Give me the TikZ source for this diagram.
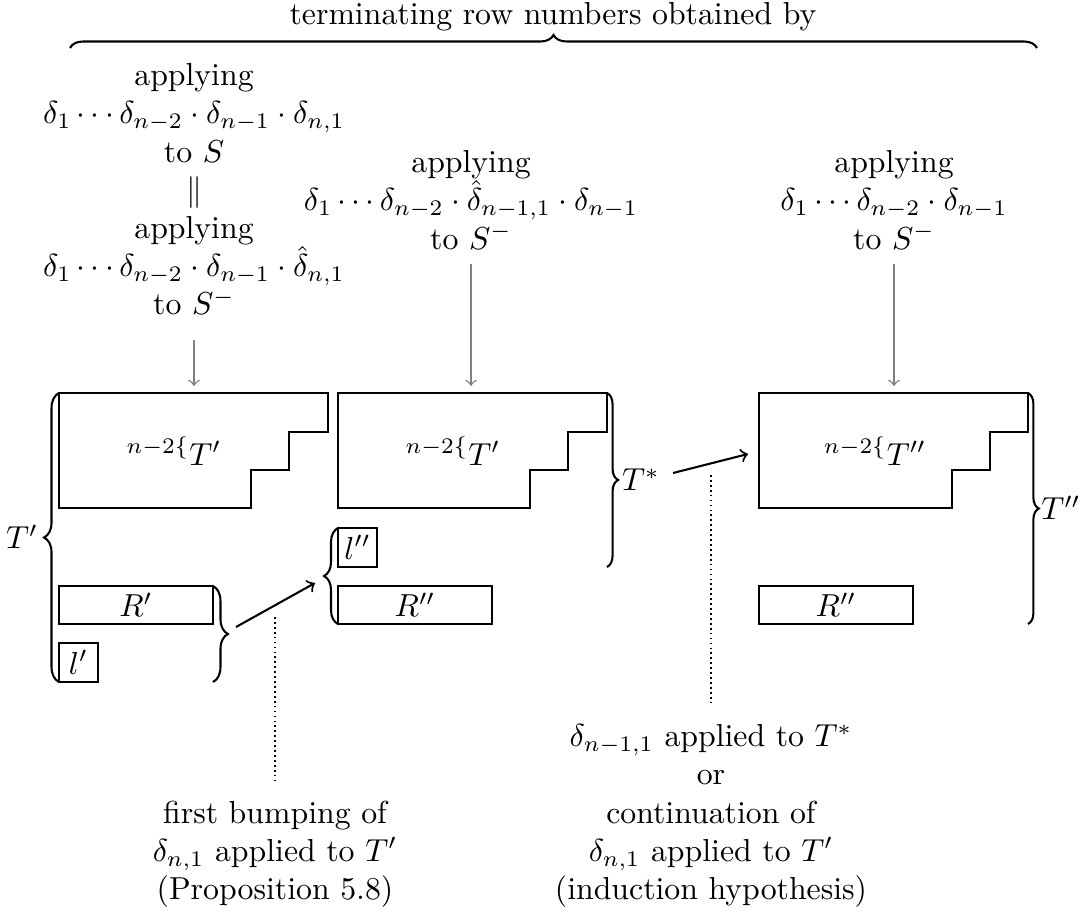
\documentclass[tikz,border=0pt]{standalone}
\usetikzlibrary{decorations.pathreplacing,calc}
\begin{document}
\begin{tikzpicture}[x=0.3145pt,y=-0.3145pt,
  box/.style={draw,line width=0.65pt},
  brc/.style={decorate,decoration={brace,amplitude=#1},line width=0.65pt},
  brc/.default=4.5pt,
  grayarrow/.style={->,gray,line width=0.45pt},
  blackarrow/.style={->,line width=0.65pt},
  dots/.style={densely dotted,line width=0.55pt},
  txt/.style={align=center,inner sep=0pt}]
\useasboundingbox (0,0) rectangle (1086,911);

% title and top brace
\node[txt] (title) at (553,17) {terminating row numbers obtained by};
\coordinate (tbL) at (70,48);
\coordinate (tbR) at (1037,48);
\draw[brc=4.1pt] (tbL) -- (tbR);

% column texts
\node[txt,anchor=north] (c1) at (194,63) {applying\\ $\delta_1\cdots\delta_{n-2}\cdot\delta_{n-1}\cdot\delta_{n,1}$\\ to $S$\\ $\|$\\ applying\\ $\delta_1\cdots\delta_{n-2}\cdot\delta_{n-1}\cdot\hat{\delta}_{n,1}$\\ to $S^-$};
\node[txt,anchor=north] (c2) at (471,150) {applying\\ $\delta_1\cdots\delta_{n-2}\cdot\hat{\delta}_{n-1,1}\cdot\delta_{n-1}$\\ to $S^-$};
\node[txt,anchor=north] (c3) at (894,150) {applying\\ $\delta_1\cdots\delta_{n-2}\cdot\delta_{n-1}$\\ to $S^-$};

\coordinate (g1s) at (194,340); \coordinate (g1e) at (194,386);
\coordinate (g2s) at (471,264); \coordinate (g2e) at (471,386);
\coordinate (g3s) at (894,264); \coordinate (g3e) at (894,386);
\draw[grayarrow] (g1s) -- (g1e);
\draw[grayarrow] (g2s) -- (g2e);
\draw[grayarrow] (g3s) -- (g3e);

% tableau 1
\draw[box] (59,393) -- (328,393) -- (328,432) -- (289,432) -- (289,470) -- (251,470) -- (251,508) -- (59,508) -- cycle;
\node (t1) at (174,451) {$^{n-2\{}T'$};
\draw[box] (59,586) rectangle (213,624);
\node (r1) at (136,605) {$R'$};
\draw[box] (59,643) rectangle (98,682);
\node (l1) at (78.5,662.5) {$l'$};
\draw[brc=4.7pt] (59,682) -- (59,393);
\node (Tp) at (22,537) {$T'$};
\draw[brc=4.7pt] (213,586) -- (213,682);

% tableau 2
\draw[box] (338,393) -- (607,393) -- (607,432) -- (568,432) -- (568,470) -- (530,470) -- (530,508) -- (338,508) -- cycle;
\node (t2) at (453,451) {$^{n-2\{}T'$};
\draw[box] (338,528) rectangle (377,567);
\node (l2) at (357.5,547.5) {$l''$};
\draw[box] (338,586) rectangle (492,624);
\node (r2) at (415,605) {$R''$};
\draw[brc=4.4pt] (338,624) -- (338,528);
\draw[brc=3.5pt] (607,393) -- (607,567);
\node (Ts) at (641,480) {$T^*$};

% tableau 3
\draw[box] (759,393) -- (1028,393) -- (1028,432) -- (990,432) -- (990,470) -- (952,470) -- (952,508) -- (759,508) -- cycle;
\node (t3) at (875,451) {$^{n-2\{}T''$};
\draw[box] (759,586) rectangle (913,624);
\node (r3) at (836,605) {$R''$};
\draw[brc=3.4pt] (1028,393) -- (1028,624);
\node (Tpp) at (1061,508) {$T''$};

% black arrows
\coordinate (a1s) at (236,627); \coordinate (a1e) at (315,583);
\coordinate (a2s) at (673,473); \coordinate (a2e) at (748,454);
\draw[blackarrow] (a1s) -- (a1e);
\draw[blackarrow] (a2s) -- (a2e);

% dotted lines
\coordinate (d1s) at (275,617); \coordinate (d1e) at (275,780);
\coordinate (d2s) at (711,475); \coordinate (d2e) at (711,705);
\draw[dots] (d1s) -- (d1e);
\draw[dots] (d2s) -- (d2e);

% bottom texts
\node[txt,anchor=south] (b1) at (275,908) {first bumping of\\ $\delta_{n,1}$ applied to $T'$\\ (Proposition 5.8)};
\node[txt,anchor=south] (b2) at (711,908) {$\delta_{n-1,1}$ applied to $T^*$\\ or\\ continuation of\\ $\delta_{n,1}$ applied to $T'$\\ (induction hypothesis)};
\end{tikzpicture}
\end{document}
